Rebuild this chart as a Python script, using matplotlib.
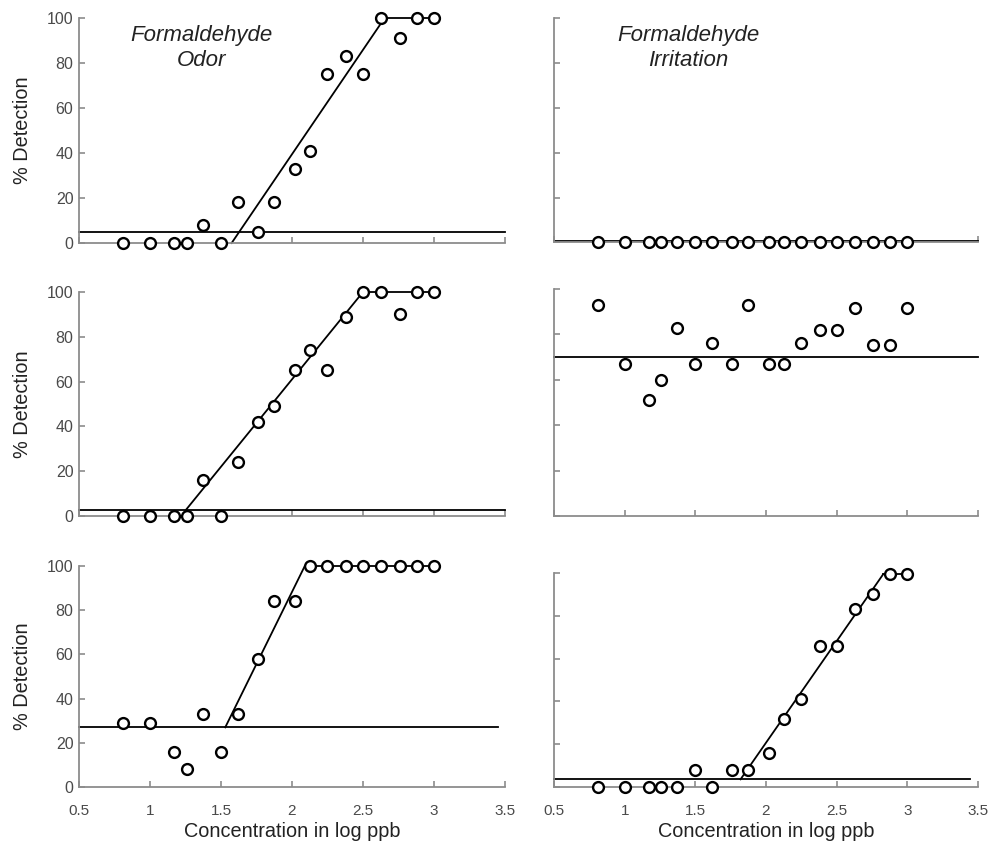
import matplotlib
matplotlib.use('Agg')
import matplotlib.pyplot as plt

plt.rcParams['font.family'] = ['Liberation Sans', 'DejaVu Sans']

# log ppb concentrations (same for every panel)
conc = [0.81, 1.0, 1.17, 1.26, 1.37, 1.5, 1.62, 1.76, 1.87,
        2.02, 2.13, 2.25, 2.38, 2.5, 2.63, 2.76, 2.88, 3.0]

# % detection
odor1 = [0, 0, 0, 0, 8, 0, 18, 5, 18, 33, 41, 75, 83, 75, 100, 91, 100, 100]
irrit1 = [0, 0, 0, 0, 0, 0, 0, 0, 0, 0, 0, 0, 0, 0, 0, 0, 0, 0]
odor2 = [0, 0, 0, 0, 16, 0, 24, 42, 49, 65, 74, 65, 89, 100, 100, 90, 100, 100]
irrit2 = [93, 67, 51, 60, 83, 67, 76, 67, 93, 67, 67, 76, 82, 82, 91.5, 75.5, 75.5, 91.5]
odor3 = [29, 29, 16, 8, 33, 16, 33, 58, 84, 84, 100, 100, 100, 100, 100, 100, 100, 100]
irrit3 = [0, 0, 0, 0, 0, 8, 0, 8, 8, 16, 32, 41, 66, 66, 83, 90, 99.5, 99.5]

# fitted segments: baseline, rise, plateau  (x list, y list)
fit1 = [([0.5, 3.5], [5, 5]), ([1.575, 2.62], [0, 97]), ([2.63, 3.0], [100, 100])]
fitI1 = [([0.5, 3.5], [0.5, 0.5])]
fit2 = [([0.5, 3.5], [2.5, 2.5]), ([1.25, 2.5], [2.5, 100]), ([2.5, 3.0], [100, 100])]
fitI2 = [([0.5, 3.5], [70, 70])]
fit3 = [([0.5, 3.45], [27, 27]), ([1.53, 2.09], [27, 100]), ([2.09, 3.0], [100, 100])]
fitI3 = [([0.5, 3.44], [3.6, 3.6]), ([1.82, 2.83], [3.6, 99.5]), ([2.83, 3.0], [99.5, 99.5])]

panels = [odor1, irrit1, odor2, irrit2, odor3, irrit3]
fits = [fit1, fitI1, fit2, fitI2, fit3, fitI3]

xticks = [0.5, 1, 1.5, 2, 2.5, 3, 3.5]
xticklabels = ['0.5', '1', '1.5', '2', '2.5', '3', '3.5']
yticks = [0, 20, 40, 60, 80, 100]

W, H = 992, 847
# pixel boxes (left, top, right, bottom)
boxes = [(79, 18, 505, 243), (554, 18, 978, 242.5),
         (79, 292, 505, 516), (554, 289, 978, 516),
         (79, 566, 505, 787), (554, 573, 978, 787)]

fig = plt.figure(figsize=(W / 100, H / 100), dpi=100)
axis_grey = '#8c8c8c'
text_grey = '#4a4a4a'

for i, (vals, fit, box) in enumerate(zip(panels, fits, boxes)):
    l, t, r, b = box
    ax = fig.add_axes([l / W, 1 - b / H, (r - l) / W, (b - t) / H])
    for fx, fy in fit:
        ax.plot(fx, fy, color='black', lw=1.3, clip_on=False, zorder=2)
    ax.plot(conc, vals, 'o', mfc='white', mec='black', ms=7.8, mew=1.7,
            clip_on=False, zorder=3)
    ax.set_xlim(0.5, 3.5)
    ax.set_ylim(0, 100)
    for s in ['top', 'right']:
        ax.spines[s].set_visible(False)
    for s in ['left', 'bottom']:
        ax.spines[s].set_color(axis_grey)
        ax.spines[s].set_linewidth(1.3)
    ax.set_xticks(xticks)
    ax.set_yticks(yticks)
    ax.tick_params(direction='in', length=4, width=1.2, color=axis_grey,
                   labelsize=11, labelcolor=text_grey)
    ax.tick_params(axis='x', pad=12)
    ax.tick_params(axis='y', pad=4, labelsize=11.5)
    if i >= 4:
        ax.set_xticklabels(xticklabels)
        ax.set_xlabel('Concentration in log ppb', fontsize=14.3, color='#222222', labelpad=3)
    else:
        ax.set_xticklabels([])
    if i % 2 == 0:
        ax.set_ylabel('% Detection', fontsize=14.3, color='#222222', labelpad=11)
    else:
        ax.set_yticklabels([])

fig.text(201 / W, 1 - 48 / H, 'Formaldehyde\nOdor', ha='center', va='center',
         fontsize=16, style='italic', color='#222222', linespacing=1.3)
fig.text(688 / W, 1 - 48 / H, 'Formaldehyde\nIrritation', ha='center', va='center',
         fontsize=16, style='italic', color='#222222', linespacing=1.3)

fig.savefig('out.png', dpi=100)
